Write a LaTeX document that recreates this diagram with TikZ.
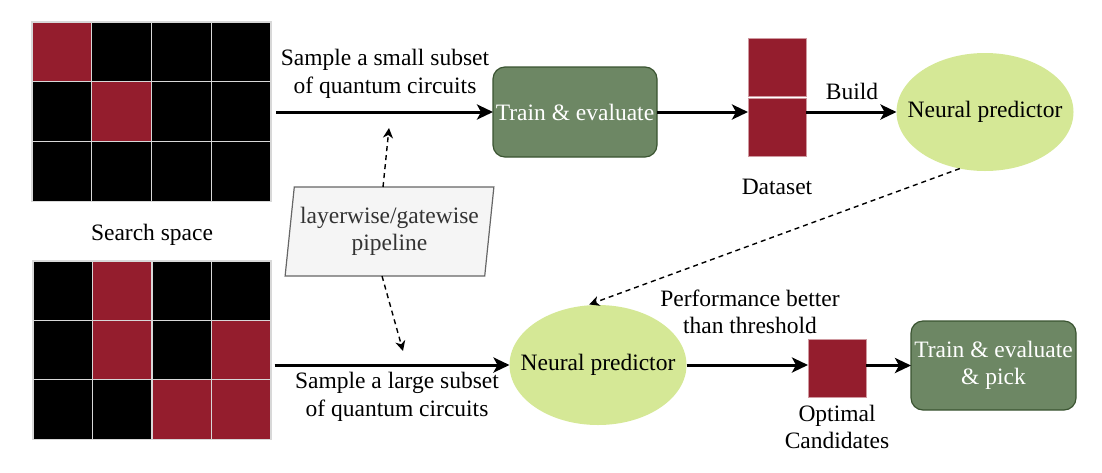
\documentclass[tikz,border=0pt]{standalone}
\usepackage{fontspec}
\setmainfont{Liberation Serif}
\usetikzlibrary{arrows.meta,shapes.geometric}
\definecolor{cellR}{HTML}{941D2D}
\definecolor{cellK}{HTML}{000000}
\definecolor{cellline}{HTML}{D8D8D8}
\definecolor{boxgreen}{HTML}{6D8764}
\definecolor{boxedge}{HTML}{3A5431}
\definecolor{predgreen}{HTML}{D5E896}
\definecolor{pipefill}{HTML}{F5F5F5}
\definecolor{pipeedge}{HTML}{666666}
\definecolor{pipetext}{HTML}{333333}
\begin{document}
\begin{tikzpicture}[x=1pt,y=-1pt,
  every node/.style={font=\fontsize{23.5}{27.5}\selectfont, inner sep=0pt, outer sep=0pt},
  lbl/.style={align=center, text=black},
  cell/.style={draw=cellline, line width=1.2pt},
  flow/.style={line width=3pt, -{Stealth[length=16pt,width=15pt,inset=4pt]}},
  hint/.style={line width=1.4pt, dash pattern=on 5pt off 4pt, -{Stealth[length=10pt,width=10pt,inset=3pt]}},
  greenbox/.style={rectangle, rounded corners=12pt, fill=boxgreen, draw=boxedge, line width=1.2pt, text=white, align=center},
  predictor/.style={ellipse, fill=predgreen},
  candidate/.style={rectangle, fill=cellR, draw=white!55!cellR, line width=1pt, minimum width=58pt, minimum height=58pt},
  region/.style={rectangle, minimum width=239pt, minimum height=179pt}
]
\useasboundingbox (0,0) rectangle (1102,472);

% search space grids
\foreach \j/\row in {0/{R,K,K,K},1/{K,R,K,K},2/{K,K,K,K}}{
  \foreach \c [count=\i from 0] in \row {
    \draw[cell, fill=cell\c] (32+\i*59.75, 22+\j*59.7) rectangle ++(59.75,59.7);
  }
}
\foreach \j/\row in {0/{K,R,K,K},1/{K,R,K,R},2/{K,K,R,R}}{
  \foreach \c [count=\i from 0] in \row {
    \draw[cell, fill=cell\c] (33+\i*59.5, 261+\j*59.4) rectangle ++(59.5,59.4);
  }
}
\node[region] (space1) at (151.5,111.5) {};
\node[region] (space2) at (152,350) {};
\node[lbl] (sslabel) at (152,235) {Search space};

% nodes
\node[greenbox, minimum width=164pt, minimum height=90pt] (train1) at (575,112) {Train \& evaluate};
\node[candidate] (ds1) at (777,67) {};
\node[candidate] (ds2) at (777,127) {};
\node[minimum width=58pt, minimum height=118pt] (dataset) at (777,97) {};
\node[lbl] (dslabel) at (777,187) {Dataset};
\node[predictor, minimum width=177pt, minimum height=118pt] (np1) at (985,112) {};
\node[lbl] (np1text) at (np1.center) {Neural predictor};

\node[trapezium, trapezium left angle=80, trapezium right angle=100, trapezium stretches=true,
      minimum width=209pt, minimum height=89pt, fill=pipefill, draw=pipeedge, line width=1.2pt,
      text=pipetext, align=center] (pipe) at (389.5,231.5) {layerwise/gatewise\\pipeline};

\node[predictor, minimum width=177pt, minimum height=120pt] (np2) at (598,365) {};
\node[lbl] (np2text) at (np2.center) {Neural predictor};
\node[candidate] (best) at (837,368) {};
\node[lbl] (bestlabel) at (837,427) {Optimal\\Candidates};
\node[greenbox, minimum width=165pt, minimum height=89pt] (final) at (993.5,365.5) {Train \& evaluate\\\& pick};

% labels
\node[lbl] (l1) at (385,74) {Sample a small subset\\of quantum circuits};
\node[lbl] (l2) at (397,397) {Sample a large subset\\of quantum circuits};
\node[lbl] (l3) at (852,91) {Build};
\node[lbl] (l4) at (750,312) {Performance better\\than threshold};

% connectors
\draw[flow, shorten <=5pt] (space1.east |- train1.west) -- (train1.west);
\draw[flow] (train1.east) -- (train1.east -| dataset.west);
\draw[flow] (dataset.east |- np1.west) -- (np1.west);
\draw[flow, shorten <=3pt] (space2.east |- np2.west) -- (np2.west);
\draw[flow] (np2.east) -- (np2.east -| best.west);
\draw[flow] (best.east |- final.west) -- (final.west);

\coordinate (t1) at (389,128);
\coordinate (t2) at (403,351);
\draw[hint] ([xshift=-6.5pt]pipe.north) -- (t1);
\draw[hint] ([xshift=-7.5pt]pipe.south) -- (t2);
\draw[hint, shorten >=3pt] (np1.-114) -- (np2.101);
\end{tikzpicture}
\end{document}
